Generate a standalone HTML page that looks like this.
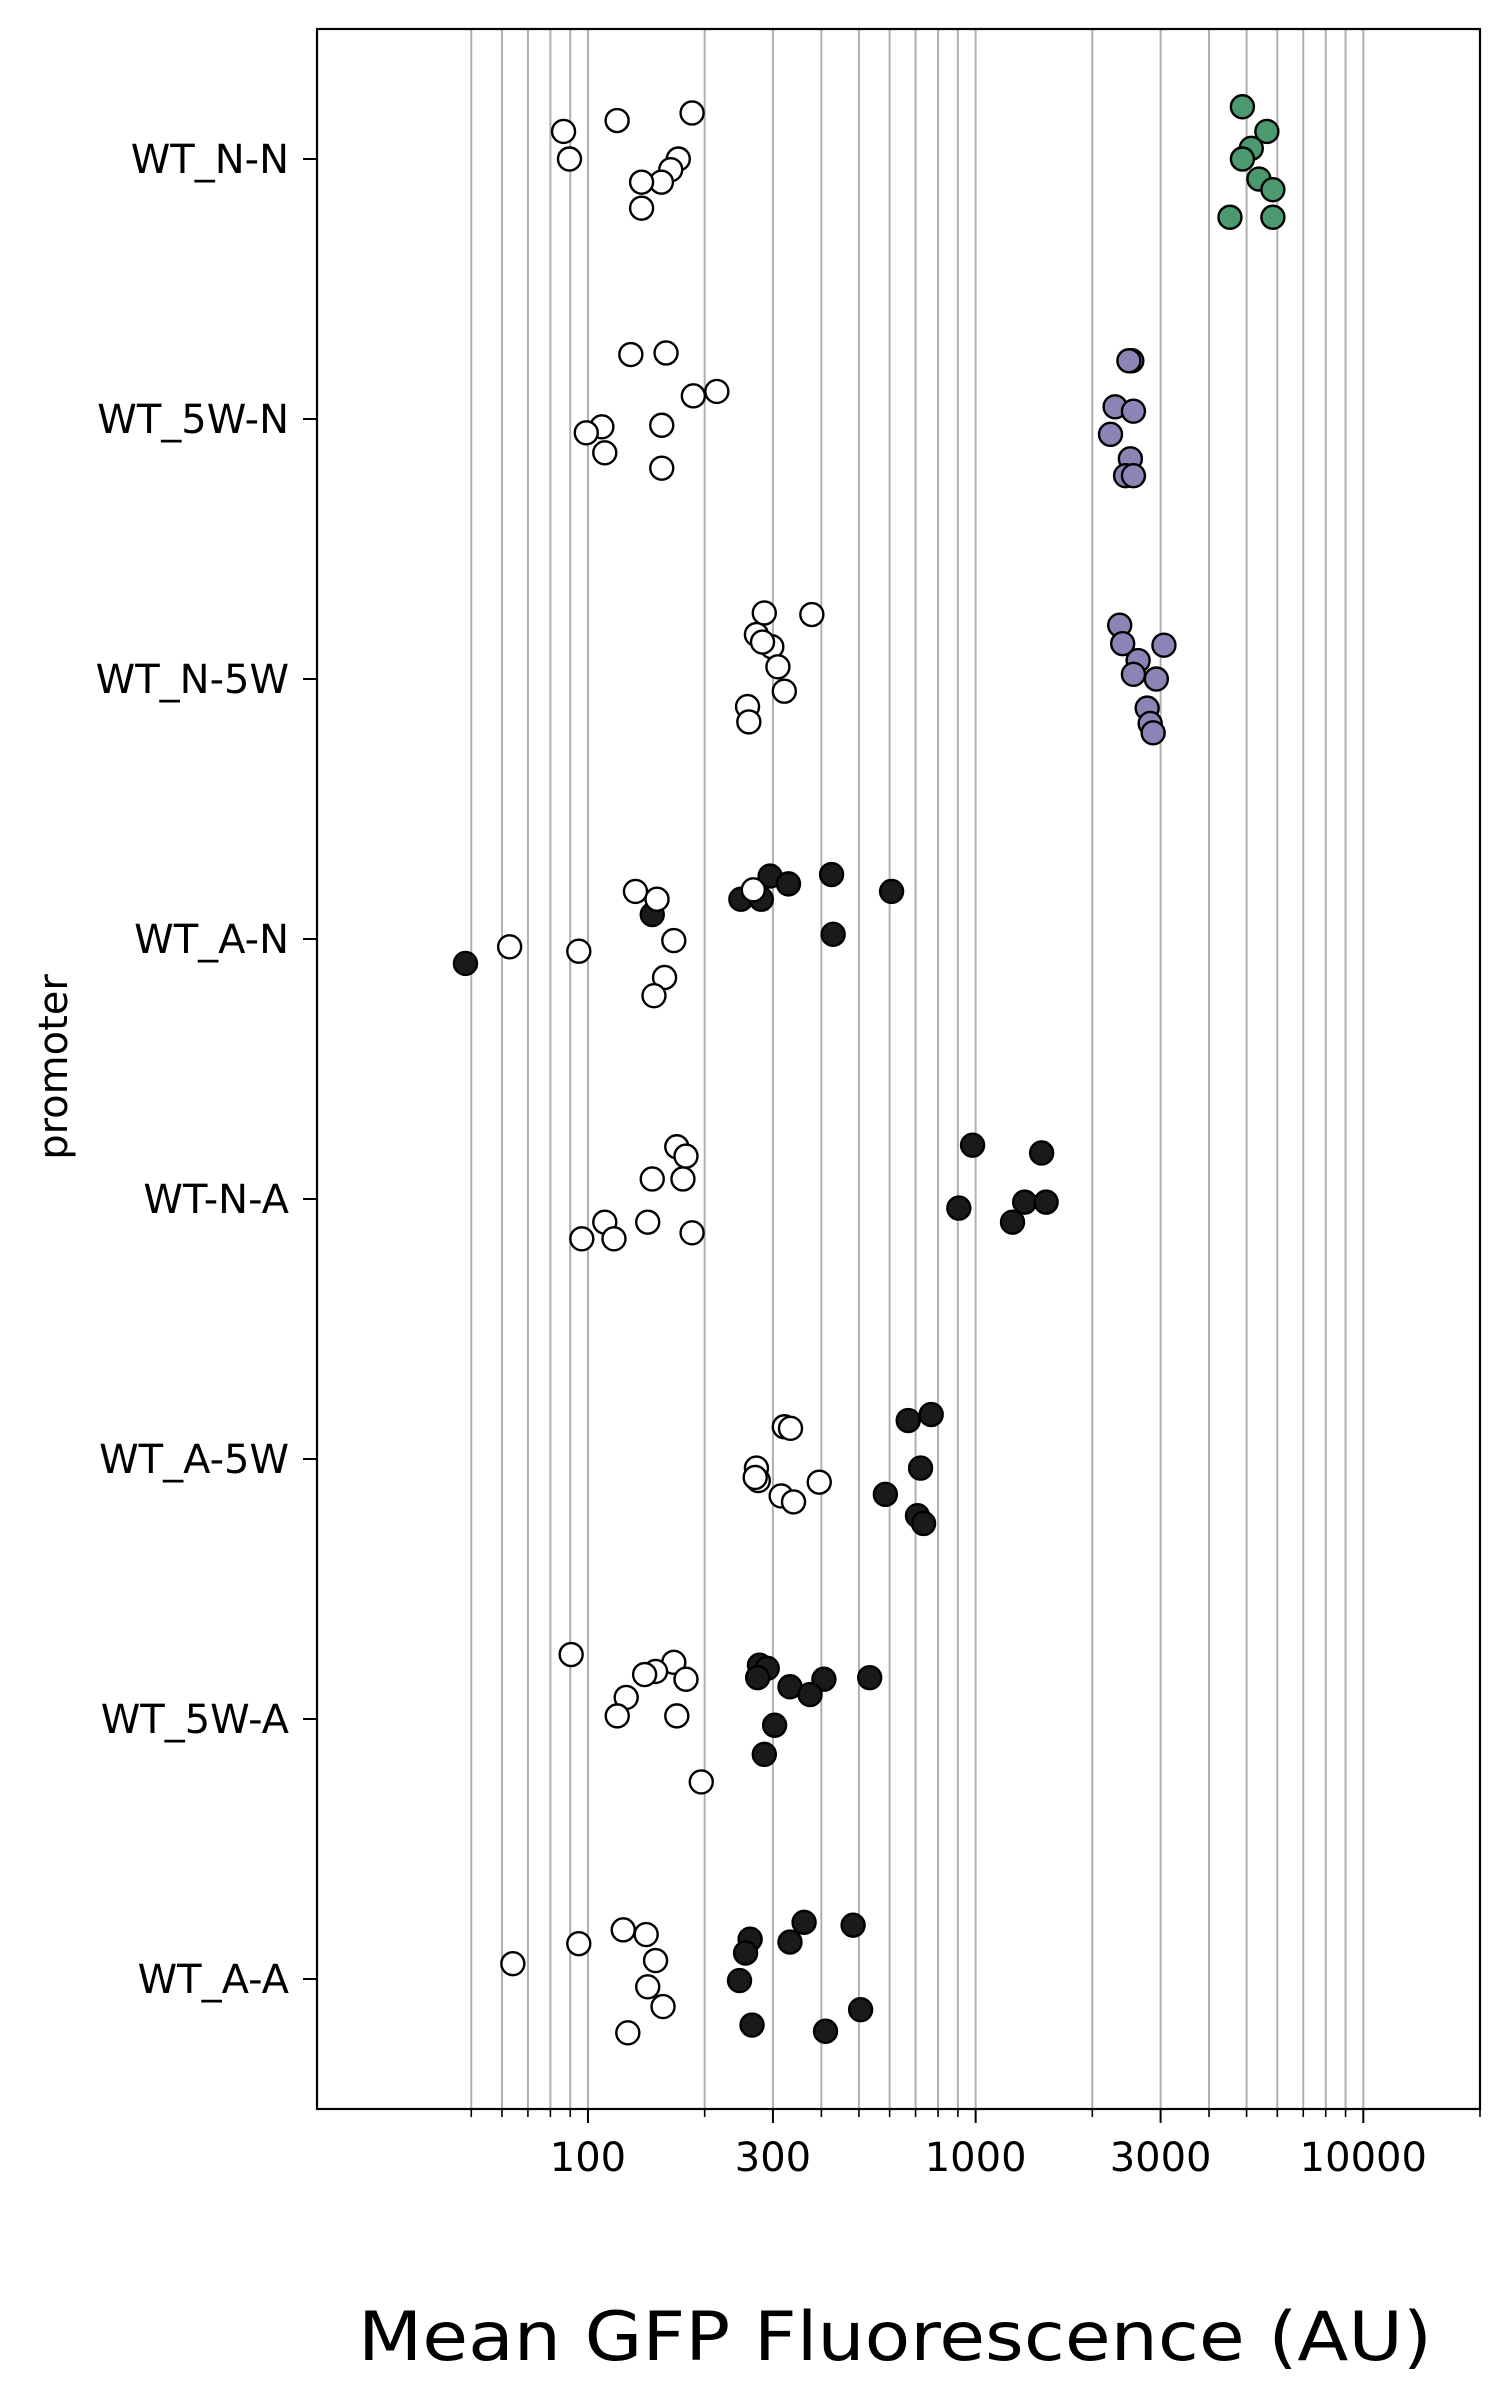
<!DOCTYPE html>
<html><head><meta charset="utf-8"><style>
html,body{margin:0;padding:0;background:#fff}
svg{display:block}
text{font-family:"DejaVu Sans","Liberation Sans",sans-serif;fill:#000}
</style></head><body>
<svg id="chart" width="1509" height="2406" viewBox="0 0 1509 2406">
<g id="grid"></g>
<g id="pts"></g>
<rect x="317" y="29" width="1163" height="2080" fill="none" stroke="#000" stroke-width="2.2"/>
<g id="axes"></g>
<text x="895" y="2360" font-size="68" text-anchor="middle" textLength="1074" lengthAdjust="spacingAndGlyphs">Mean GFP Fluorescence (AU)</text>
<text transform="translate(67,1067) rotate(-90)" font-size="40" text-anchor="middle">promoter</text>
</svg>
<script>
const categories = ["WT_N-N","WT_5W-N","WT_N-5W","WT_A-N","WT-N-A","WT_A-5W","WT_5W-A","WT_A-A"];
const colors = ["#4b9a6f","#8c84b5","#8c84b5","#1a1a1a","#1a1a1a","#1a1a1a","#1a1a1a","#1a1a1a"];
const colValues = [
 [4877,5640,5140,4877,5380,5845,4530,5845],
 [2529,2485,2290,2553,2228,2507,2437,2553],
 [2353,2395,3060,2625,2553,2925,2770,2820,2870],
 [48.3,146.5,248,280,295,329,425,607,429],
 [982,1480,905,1338,1520,1245],
 [670,768,721,585,708,734],
 [277,290,274,406,533,332,374,303,285],
 [361,483,262,332,255,246,265,410,505]
];
const colJitter = [
 [-0.201,-0.106,-0.041,0,0.077,0.118,0.224,0.224],
 [-0.224,-0.224,-0.047,-0.030,0.059,0.153,0.218,0.218],
 [-0.207,-0.136,-0.130,-0.071,-0.018,0,0.112,0.171,0.207],
 [0.094,-0.094,-0.153,-0.153,-0.242,-0.212,-0.248,-0.183,-0.018],
 [-0.207,-0.177,0.035,0.012,0.012,0.089],
 [-0.148,-0.171,0.035,0.136,0.218,0.248],
 [-0.207,-0.195,-0.159,-0.153,-0.159,-0.124,-0.094,0.024,0.136],
 [-0.218,-0.207,-0.153,-0.142,-0.100,0.006,0.177,0.201,0.118]
];
const wtValues = [
 [86.5,89.6,118.9,185.6,171,163.5,154.7,137.5,137.5],
 [129,159,215,187,108.6,99,110.5,155,155],
 [285,378,272,298,282,309,321,258,260],
 [62.8,94.7,132.6,150.7,166.5,157.6,148,267],
 [169.5,179,175.8,146.5,185.6,110.5,96.4,116.7,142.6],
 [321,333,272,275,395,315,339,270],
 [90.5,166.5,149.4,179,140,125.5,119,169.5,196],
 [123.3,141.3,94.7,149.4,64,142.6,156.2,126.7]
];
const wtJitter = [
 [-0.106,0,-0.148,-0.177,0,0.041,0.089,0.089,0.189],
 [-0.248,-0.254,-0.106,-0.089,0.030,0.053,0.130,0.024,0.189],
 [-0.254,-0.248,-0.171,-0.124,-0.142,-0.047,0.047,0.106,0.165],
 [0.030,0.047,-0.183,-0.153,0.006,0.148,0.218,-0.189],
 [-0.201,-0.165,-0.077,-0.077,0.130,0.089,0.153,0.153,0.089],
 [-0.124,-0.118,0.035,0.083,0.089,0.142,0.165,0.071],
 [-0.248,-0.218,-0.183,-0.153,-0.171,-0.083,-0.012,-0.012,0.242],
 [-0.189,-0.171,-0.136,-0.071,-0.059,0.030,0.106,0.207]
];
const majorTicks = [100,300,1000,3000,10000];
const majorLabels = ["100","300","1000","3000","10000"];
const minorTicks = [50,60,70,80,90,200,400,500,600,700,800,900,2000,4000,5000,6000,7000,8000,9000,20000];
const gridTicks = [50,60,70,80,90,100,200,300,400,500,600,700,800,900,1000,2000,3000,4000,5000,6000,7000,8000,9000,10000];

const NS="http://www.w3.org/2000/svg";
const L=317,R=1480,T=29,B=2109;
const lmin=Math.log10(20),lmax=Math.log10(20000);
function xs(v){return L+(Math.log10(v)-lmin)/(lmax-lmin)*(R-L);}
function ys(c){return T+(c+0.5)/categories.length*(B-T);}
function mk(tag,attrs,parent){const e=document.createElementNS(NS,tag);for(const k in attrs)e.setAttribute(k,attrs[k]);parent.appendChild(e);return e;}
const grid=document.getElementById('grid'),pts=document.getElementById('pts'),axes=document.getElementById('axes');
gridTicks.forEach(v=>{
 const l=mk('line',{x1:xs(v),x2:xs(v),y1:T,y2:B,stroke:'#b0b0b0','stroke-width':2},grid);
 
 
});
majorTicks.forEach((v,i)=>{
 const l=mk('line',{x1:xs(v),x2:xs(v),y1:B,y2:B+14,stroke:'#000','stroke-width':2},axes);
 
 
 const t=mk('text',{x:xs(v),y:B+62,'font-size':40,'text-anchor':'middle'},axes);
 t.textContent=majorLabels[i];
 
 
});
minorTicks.forEach(v=>{
 const l=mk('line',{x1:xs(v),x2:xs(v),y1:B,y2:B+8,stroke:'#000','stroke-width':1.6},axes);
 
 
});
categories.forEach((c,i)=>{
 const y=ys(i);
 const l=mk('line',{x1:L-14,x2:L,y1:y,y2:y,stroke:'#000','stroke-width':2},axes);
 
 
 const t=mk('text',{x:L-28,y:y+14,'font-size':40,'text-anchor':'end'},axes);
 t.textContent=c;
 
 
 colValues[i].forEach((v,k)=>{
  const p=mk('circle',{cx:xs(v),cy:ys(i+colJitter[i][k]),r:11.5,fill:colors[i],stroke:'#000','stroke-width':2.4},pts);
  
  
 });
 wtValues[i].forEach((v,k)=>{
  const p=mk('circle',{cx:xs(v),cy:ys(i+wtJitter[i][k]),r:11.5,fill:'#fff',stroke:'#000','stroke-width':2.4},pts);
  
  
 });
});
</script>
</body></html>
